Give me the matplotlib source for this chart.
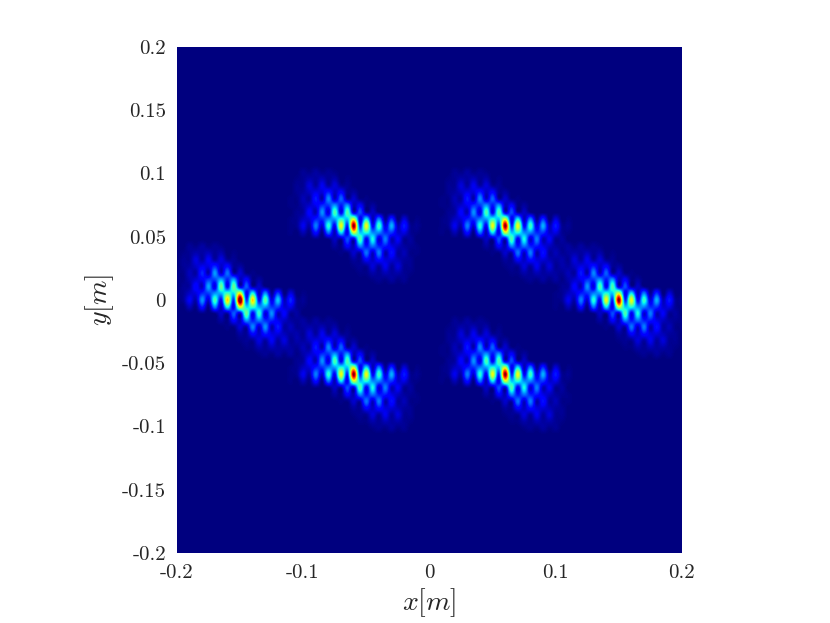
import numpy as np
import matplotlib
matplotlib.use('Agg')
import matplotlib.pyplot as plt

plt.rcParams['mathtext.fontset'] = 'cm'

# one focal spot, row -8 (top) .. +8, col -10 .. +10
spot = np.array([
    [0,0,.02,.01,.03,.01,.02,.01,0,0,0,0,0,0,0,0,0,0,0,0,0],
    [0,.01,.02,.04,.03,.05,.02,.04,0,.01,0,0,0,0,0,0,0,0,0,0,0],
    [0,.02,.02,.08,.03,.10,.03,.08,.02,.02,0,0,0,0,0,0,0,0,0,0,0],
    [0,.02,.03,.06,.09,.08,.15,.06,.12,.02,.03,0,0,0,0,0,0,0,0,0,0],
    [.01,.01,.05,.03,.15,.04,.26,.06,.22,.03,.07,.01,.01,0,0,0,0,0,0,0,0],
    [.01,.01,.04,.07,.10,.17,.17,.28,.14,.28,.05,.12,.01,.03,0,0,0,0,0,0,0],
    [0,.02,.03,.12,.05,.27,.08,.44,.10,.44,.07,.20,.03,.06,.01,0,0,0,0,0,0],
    [.01,.02,.06,.08,.15,.17,.25,.28,.40,.32,.60,.10,.36,.05,.25,.02,.17,0,.08,0,.01],
    [.01,.02,.10,.04,.25,.07,.40,.11,.64,.16,1.0,.16,.64,.11,.42,.08,.30,.05,.15,.02,.02],
    [.01,0,.05,.01,.14,.01,.24,.05,.36,.10,.60,.32,.40,.26,.26,.16,.18,.07,.09,.02,.01],
    [0,0,0,0,.01,0,.01,.06,.03,.20,.07,.44,.10,.38,.07,.25,.05,.11,.02,.03,0],
    [0,0,0,0,0,0,0,.03,.01,.12,.05,.26,.14,.24,.15,.15,.09,.06,.03,.02,.01],
    [0,0,0,0,0,0,0,0,.01,.01,.07,.04,.24,.06,.25,.04,.14,.03,.05,.01,.01],
    [0,0,0,0,0,0,0,0,0,0,.03,.02,.12,.06,.14,.08,.08,.05,.03,.02,0],
    [0,0,0,0,0,0,0,0,0,0,.01,.02,.02,.08,.03,.10,.03,.08,.02,.02,0],
    [0,0,0,0,0,0,0,0,0,0,0,.01,.01,.04,.02,.05,.03,.04,.02,.01,0],
    [0,0,0,0,0,0,0,0,0,0,0,0,0,.01,.02,.01,.03,.01,.02,0,0],
])

# spot centres and their strength
spot_x = [-0.15, -0.06, 0.06, 0.15, -0.06, 0.06]
spot_y = [0.0, 0.0587, 0.0587, 0.0, -0.0587, -0.0587]
spot_gain = [1.08, 1.0, 1.0, 1.0, 1.0, 1.0]

yticks = [-0.2, -0.15, -0.1, -0.05, 0, 0.05, 0.1, 0.15, 0.2]
xticks = [-0.2, -0.1, 0, 0.1, 0.2]

dx = 0.005
dy = 0.0587 / 11
nx = 81
ny = 75
field = np.zeros((ny, nx))
for x0, y0, g in zip(spot_x, spot_y, spot_gain):
    cx = int(round((x0 + 0.2) / dx))
    cy = int(round(y0 / dy)) + ny // 2
    field[cy - 8:cy + 9, cx - 10:cx + 11] += g * spot[::-1]

fig = plt.figure(figsize=(8.3, 6.23), dpi=100)
ax = fig.add_axes([177 / 830, 1 - 553 / 623, 504 / 830, 506 / 623])
ax.imshow(field, cmap='jet', vmin=0, vmax=1, origin='lower', aspect='auto',
          interpolation='catrom', interpolation_stage='data',
          extent=[-0.2 - dx / 2, 0.2 + dx / 2, -ny * dy / 2, ny * dy / 2])
ax.set_xlim(-0.2, 0.2)
ax.set_ylim(-0.2, 0.2)
ax.set_xticks(xticks)
ax.set_xticklabels(['%g' % v for v in xticks], fontname='cmr10')
ax.set_yticks(yticks)
ax.set_yticklabels(['%g' % v for v in yticks], fontname='cmr10')
ax.tick_params(axis='both', length=0, labelsize=15, labelcolor='#262626', pad=8)
for s in ax.spines.values():
    s.set_visible(False)
ax.set_xlabel('$x[m]$', fontsize=20, color='#262626', labelpad=3)
ax.set_ylabel('$y[m]$', fontsize=20, color='#262626', labelpad=4)
fig.savefig('out.png', dpi=100)
